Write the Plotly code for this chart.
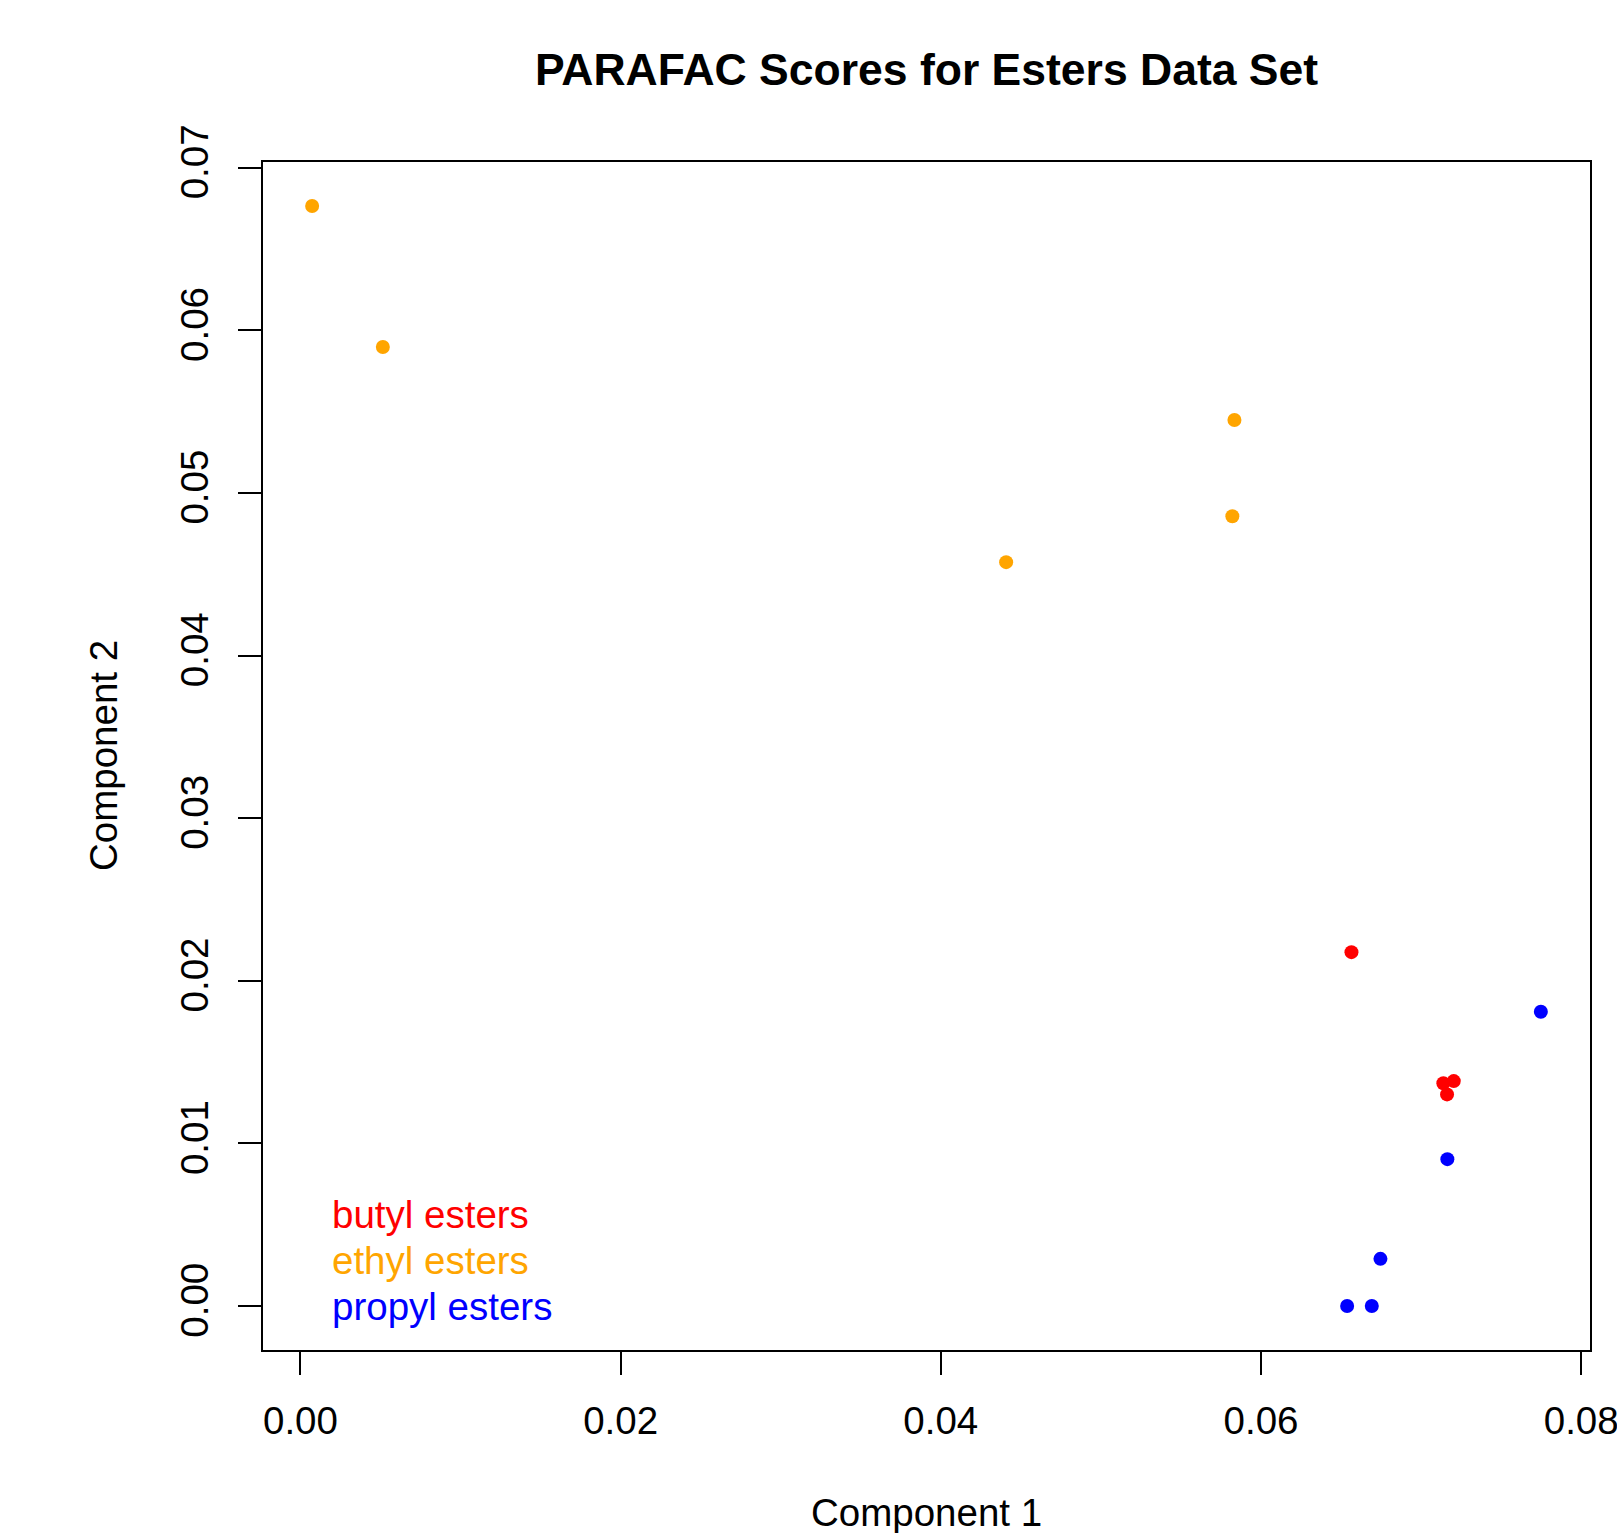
import plotly.graph_objects as go

# Data
groups = ["butyl esters", "ethyl esters", "propyl esters"]
colors = ["#FF0000", "#FFA500", "#0000FF"]

butyl_x = [0.06565, 0.07139, 0.07204, 0.07162]
butyl_y = [0.02176, 0.01370, 0.01383, 0.01301]

ethyl_x = [0.000731, 0.005147, 0.05834, 0.05821, 0.04408]
ethyl_y = [0.06764, 0.05897, 0.05448, 0.04856, 0.04574]

propyl_x = [0.07748, 0.07164, 0.06746, 0.06538, 0.06692]
propyl_y = [0.01809, 0.00903, 0.00290, 0.0, 0.0]

x_ticks = [0.00, 0.02, 0.04, 0.06, 0.08]
x_tick_labels = ["0.00", "0.02", "0.04", "0.06", "0.08"]
y_ticks = [0.00, 0.01, 0.02, 0.03, 0.04, 0.05, 0.06, 0.07]
y_tick_labels = ["0.00", "0.01", "0.02", "0.03", "0.04", "0.05", "0.06", "0.07"]

title = "PARAFAC Scores for Esters Data Set"
x_title = "Component 1"
y_title = "Component 2"

FONT = "Liberation Sans, Arial, Helvetica, sans-serif"
FS = 38.5

fig = go.Figure()
series = [(butyl_x, butyl_y), (ethyl_x, ethyl_y), (propyl_x, propyl_y)]
for (xs, ys), name, c in zip(series, groups, colors):
    fig.add_trace(go.Scatter(x=xs, y=ys, mode="markers", name=name,
                             marker=dict(color=c, size=14, line=dict(width=0)),
                             showlegend=False, hoverinfo="skip"))

# R-like 4% range expansion
all_x = butyl_x + ethyl_x + propyl_x
all_y = butyl_y + ethyl_y + propyl_y
dx = max(all_x) - min(all_x)
dy = max(all_y) - min(all_y)
xr = [min(all_x) - 0.04 * dx, max(all_x) + 0.04 * dx]
yr = [min(all_y) - 0.04 * dy, max(all_y) + 0.04 * dy]

W, H = 1617, 1533
L, R, T, B = 263, 27, 162, 183

fig.update_layout(
    width=W, height=H, autosize=False,
    margin=dict(l=L, r=R, t=T, b=B, pad=0, autoexpand=False),
    plot_bgcolor="white", paper_bgcolor="white",
    font=dict(family=FONT, color="black", size=FS),
    showlegend=False,
    title=dict(text="<b>" + title + "</b>", x=0.5, xref="paper", xanchor="center",
               y=1 - 69 / H, yref="container", yanchor="middle", automargin=False,
               font=dict(size=44.5, family=FONT, color="black")),
)
fig.update_xaxes(range=xr, tickvals=x_ticks, ticktext=x_tick_labels, automargin=False,
                 showgrid=False, zeroline=False, showline=True, linecolor="black",
                 linewidth=2, mirror=True, ticks="outside", ticklen=23, tickwidth=2,
                 tickcolor="black", tickfont=dict(size=FS, family=FONT),
                 ticklabelstandoff=13, ticklabeloverflow="allow")
fig.update_yaxes(range=yr, tickvals=y_ticks, ticktext=y_tick_labels, automargin=False,
                 showgrid=False, zeroline=False, showline=True, linecolor="black",
                 linewidth=2, mirror=True, ticks="outside", ticklen=23, tickwidth=2,
                 tickcolor="black", tickangle=-90, tickfont=dict(size=FS, family=FONT),
                 ticklabelstandoff=15, ticklabeloverflow="allow")

pw = W - L - R
ph = H - T - B
fig.add_annotation(text=x_title, xref="paper", yref="paper", x=0.5,
                   y=-(1513 - (H - B)) / ph, xanchor="center", yanchor="middle",
                   showarrow=False, font=dict(size=FS, family=FONT, color="black"))
fig.add_annotation(text=y_title, xref="paper", yref="paper", x=(103 - L) / pw,
                   y=0.5 - (756 - (T + ph / 2)) / ph, xanchor="center", yanchor="middle",
                   textangle=-90, showarrow=False,
                   font=dict(size=FS, family=FONT, color="black"))

legend_y_px = [1214, 1260, 1306]
for name, c, py in zip(groups, colors, legend_y_px):
    fig.add_annotation(text=name, xref="paper", yref="paper",
                       x=(330 - L) / pw, y=((H - B) - py) / ph,
                       xanchor="left", yanchor="middle", showarrow=False,
                       font=dict(size=FS, family=FONT, color=c))

fig.write_html("out.html",
               config={"displayModeBar": False, "responsive": False},
               post_script="document.body.style.margin='0px';"
                           "document.documentElement.style.overflow='hidden';"
                           "document.body.style.overflow='hidden';")
